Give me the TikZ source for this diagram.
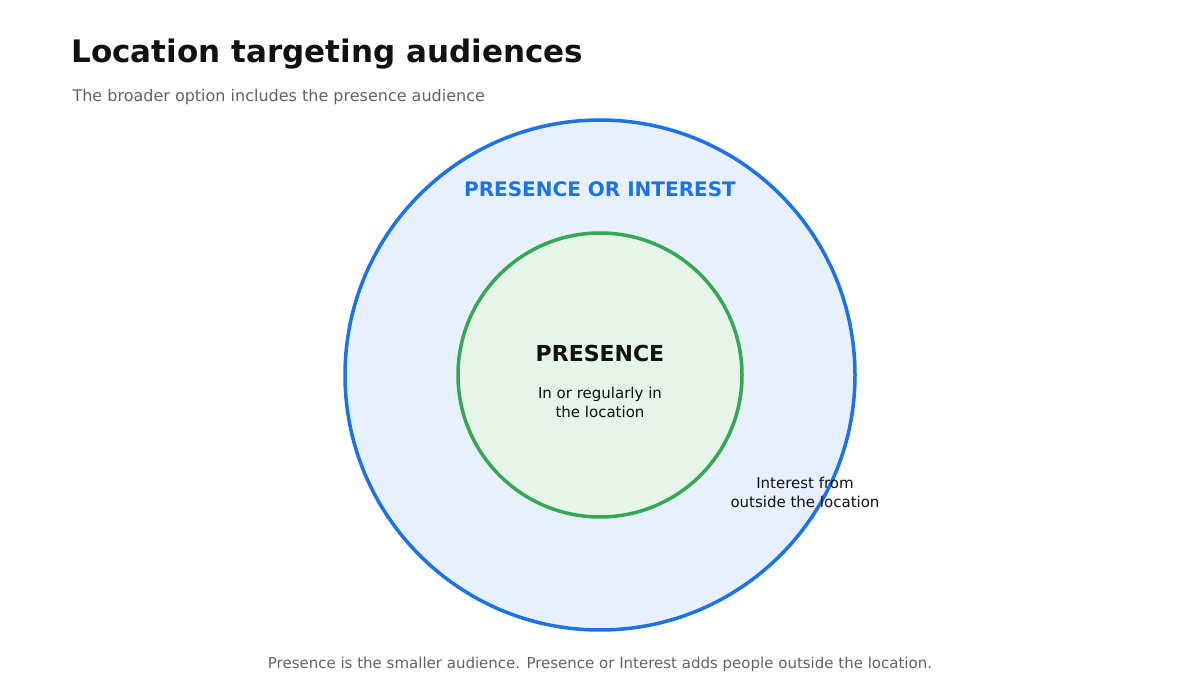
\documentclass[tikz,border=0pt]{standalone}
\usepackage{fontspec}
\setmainfont{DejaVu Sans}
\definecolor{outerblue}{HTML}{1A73E8}
\definecolor{outerfill}{HTML}{E8F0FE}
\definecolor{innergreen}{HTML}{34A853}
\definecolor{innerfill}{HTML}{E6F4EA}
\definecolor{subgray}{HTML}{5F6368}
\definecolor{inkblack}{HTML}{111111}
\begin{document}
\begin{tikzpicture}[x=1pt,y=-1pt,
	note/.style={font=\fontsize{15}{19}\selectfont, text=inkblack, align=center}]

	% canvas
	\useasboundingbox (0,0) rectangle (1200,700);

	% title
	\node[anchor=west, font=\fontsize{31}{36}\selectfont\bfseries, text=inkblack] (title) at (68,54) {Location targeting audiences};
	\node[anchor=west, font=\fontsize{16}{20}\selectfont, text=subgray] (subtitle) at (69,97) {The broader option includes the presence audience};

	% circles
	\draw[line width=3.5pt, draw=outerblue, fill=outerfill] (600,375) circle (255);
	\draw[line width=3.5pt, draw=innergreen, fill=innerfill] (600,375) circle (142);

	% labels
	\node[font=\fontsize{20}{24}\selectfont\bfseries, text=outerblue] (outer) at (600,189) {PRESENCE OR INTEREST};
	\node[font=\fontsize{22}{26}\selectfont\bfseries, text=inkblack] (inner) at (600,353) {PRESENCE};
	\node[note] (innernote) at (600,402) {In or regularly in\\the location};
	\node[note] (outernote) at (805,492) {Interest from\\outside the location};

	% footer
	\node[font=\fontsize{15}{19}\selectfont, text=subgray] (footer) at (600,664) {Presence is the smaller audience. Presence or Interest adds people outside the location.};

\end{tikzpicture}
\end{document}
